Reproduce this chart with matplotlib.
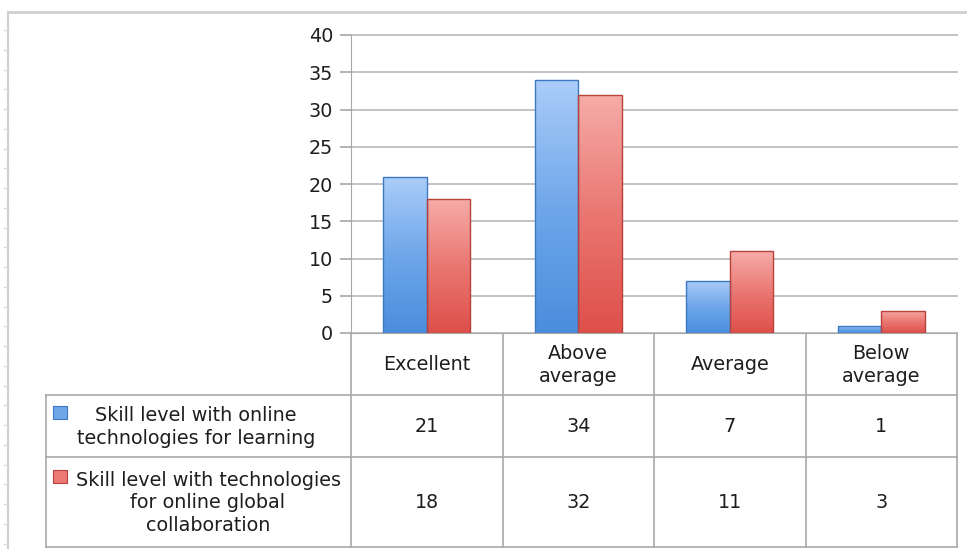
import matplotlib as mpl
mpl.use('Agg')
import matplotlib.pyplot as plt
import numpy as np
from matplotlib.colors import LinearSegmentedColormap
from matplotlib.patches import Rectangle

categories = ['Excellent', 'Above\naverage', 'Average', 'Below\naverage']
series_names = ['Skill level with online\ntechnologies for learning',
                'Skill level with technologies\nfor online global\ncollaboration']
learning = [21, 34, 7, 1]
collaboration = [18, 32, 11, 3]
yticks = [0, 5, 10, 15, 20, 25, 30, 35, 40]

plt.rcParams['font.family'] = ['DejaVu Sans']
txt = '#1e1e1e'
line = '#a8a8a8'
fs = 13.8

W, H = 967, 549
fig = plt.figure(figsize=(W / 100, H / 100), dpi=100)

# background layer in pixel coordinates (frame + data table)
bg = fig.add_axes([0, 0, 1, 1])
bg.set_xlim(0, W)
bg.set_ylim(H, 0)
bg.axis('off')

# plot area layout (pixels)
left, right, top, base = 351, 957, 35, 333
colw = (right - left) / len(categories)

ax = fig.add_axes([left / W, (H - base) / H, (right - left) / W, (base - top) / H])
ax.set_facecolor('none')

blue_cm = LinearSegmentedColormap.from_list('b', ['#4a8ddd', '#6fa7ea', '#abcdf8'])
red_cm = LinearSegmentedColormap.from_list('r', ['#df4f49', '#ea7772', '#f6aca8'])
bw = 43.5 / colw
x = np.arange(len(categories))
grad = np.linspace(0, 1, 256).reshape(-1, 1)


def gradient_bars(xs, vals, cmap, edge):
    bars = ax.bar(xs, vals, width=bw, color='none', edgecolor=edge, linewidth=1.0, zorder=3)
    for b in bars:
        x0, w, h = b.get_x(), b.get_width(), b.get_height()
        im = ax.imshow(grad, cmap=cmap, extent=(x0, x0 + w, 0, h), origin='lower',
                       aspect='auto', zorder=2)
        im.set_clip_path(b)
    return bars


gradient_bars(x - bw / 2, learning, blue_cm, '#3c78c2')
gradient_bars(x + bw / 2, collaboration, red_cm, '#b9413c')

ax.set_xlim(-0.5, len(categories) - 0.5)
ax.set_ylim(0, 40)
ax.set_yticks(yticks)
ax.set_xticks([])
ax.yaxis.grid(True, color='#c2c2c2', linewidth=1.4, zorder=0, clip_on=False)
ax.set_axisbelow(True)
for s in ['top', 'right']:
    ax.spines[s].set_visible(False)
ax.spines['left'].set_color(line)
ax.spines['bottom'].set_color(line)
ax.tick_params(axis='y', colors=line, length=8, width=1.2, pad=5, labelsize=fs, labelcolor=txt)

# outer chart frame
bg.plot([8, W], [12, 12], color='#cfcfcf', lw=2)
bg.plot([8, 8], [12, H], color='#cfcfcf', lw=1.5)
for yy in np.arange(30, H, 19.75):
    bg.plot([4, 8], [yy, yy], color='#d8d8d8', lw=1)

# data table
tleft = 46
row_edges = [base, 395, 457, 547]
col_edges = [left + k * colw for k in range(len(categories) + 1)]
for ce in col_edges:
    bg.plot([ce, ce], [base, row_edges[-1]], color=line, lw=1.2)
bg.plot([tleft, tleft], [row_edges[1], row_edges[-1]], color=line, lw=1.2)
for re_ in row_edges[1:]:
    bg.plot([tleft, right], [re_, re_], color=line, lw=1.2)

for i, c in enumerate(categories):
    cx = (col_edges[i] + col_edges[i + 1]) / 2
    bg.text(cx, (row_edges[0] + row_edges[1]) / 2 + 1, c, ha='center', va='center',
            fontsize=fs, color=txt, linespacing=1.25)
    for r, vals in enumerate([learning, collaboration]):
        bg.text(cx, (row_edges[r + 1] + row_edges[r + 2]) / 2, str(vals[i]),
                ha='center', va='center', fontsize=fs, color=txt)

label_x = [196, 208]
key_y = [406, 470]
key_col = [('#6ea6e8', '#3c78c2'), ('#ec7a75', '#b9413c')]
for r in range(2):
    bg.text(label_x[r], (row_edges[r + 1] + row_edges[r + 2]) / 2 + 1, series_names[r],
            ha='center', va='center', fontsize=fs, color=txt, linespacing=1.25,
            multialignment='center')
    bg.add_patch(Rectangle((53, key_y[r]), 14, 13, facecolor=key_col[r][0],
                           edgecolor=key_col[r][1], lw=0.8))

fig.savefig('out.png', dpi=100)
